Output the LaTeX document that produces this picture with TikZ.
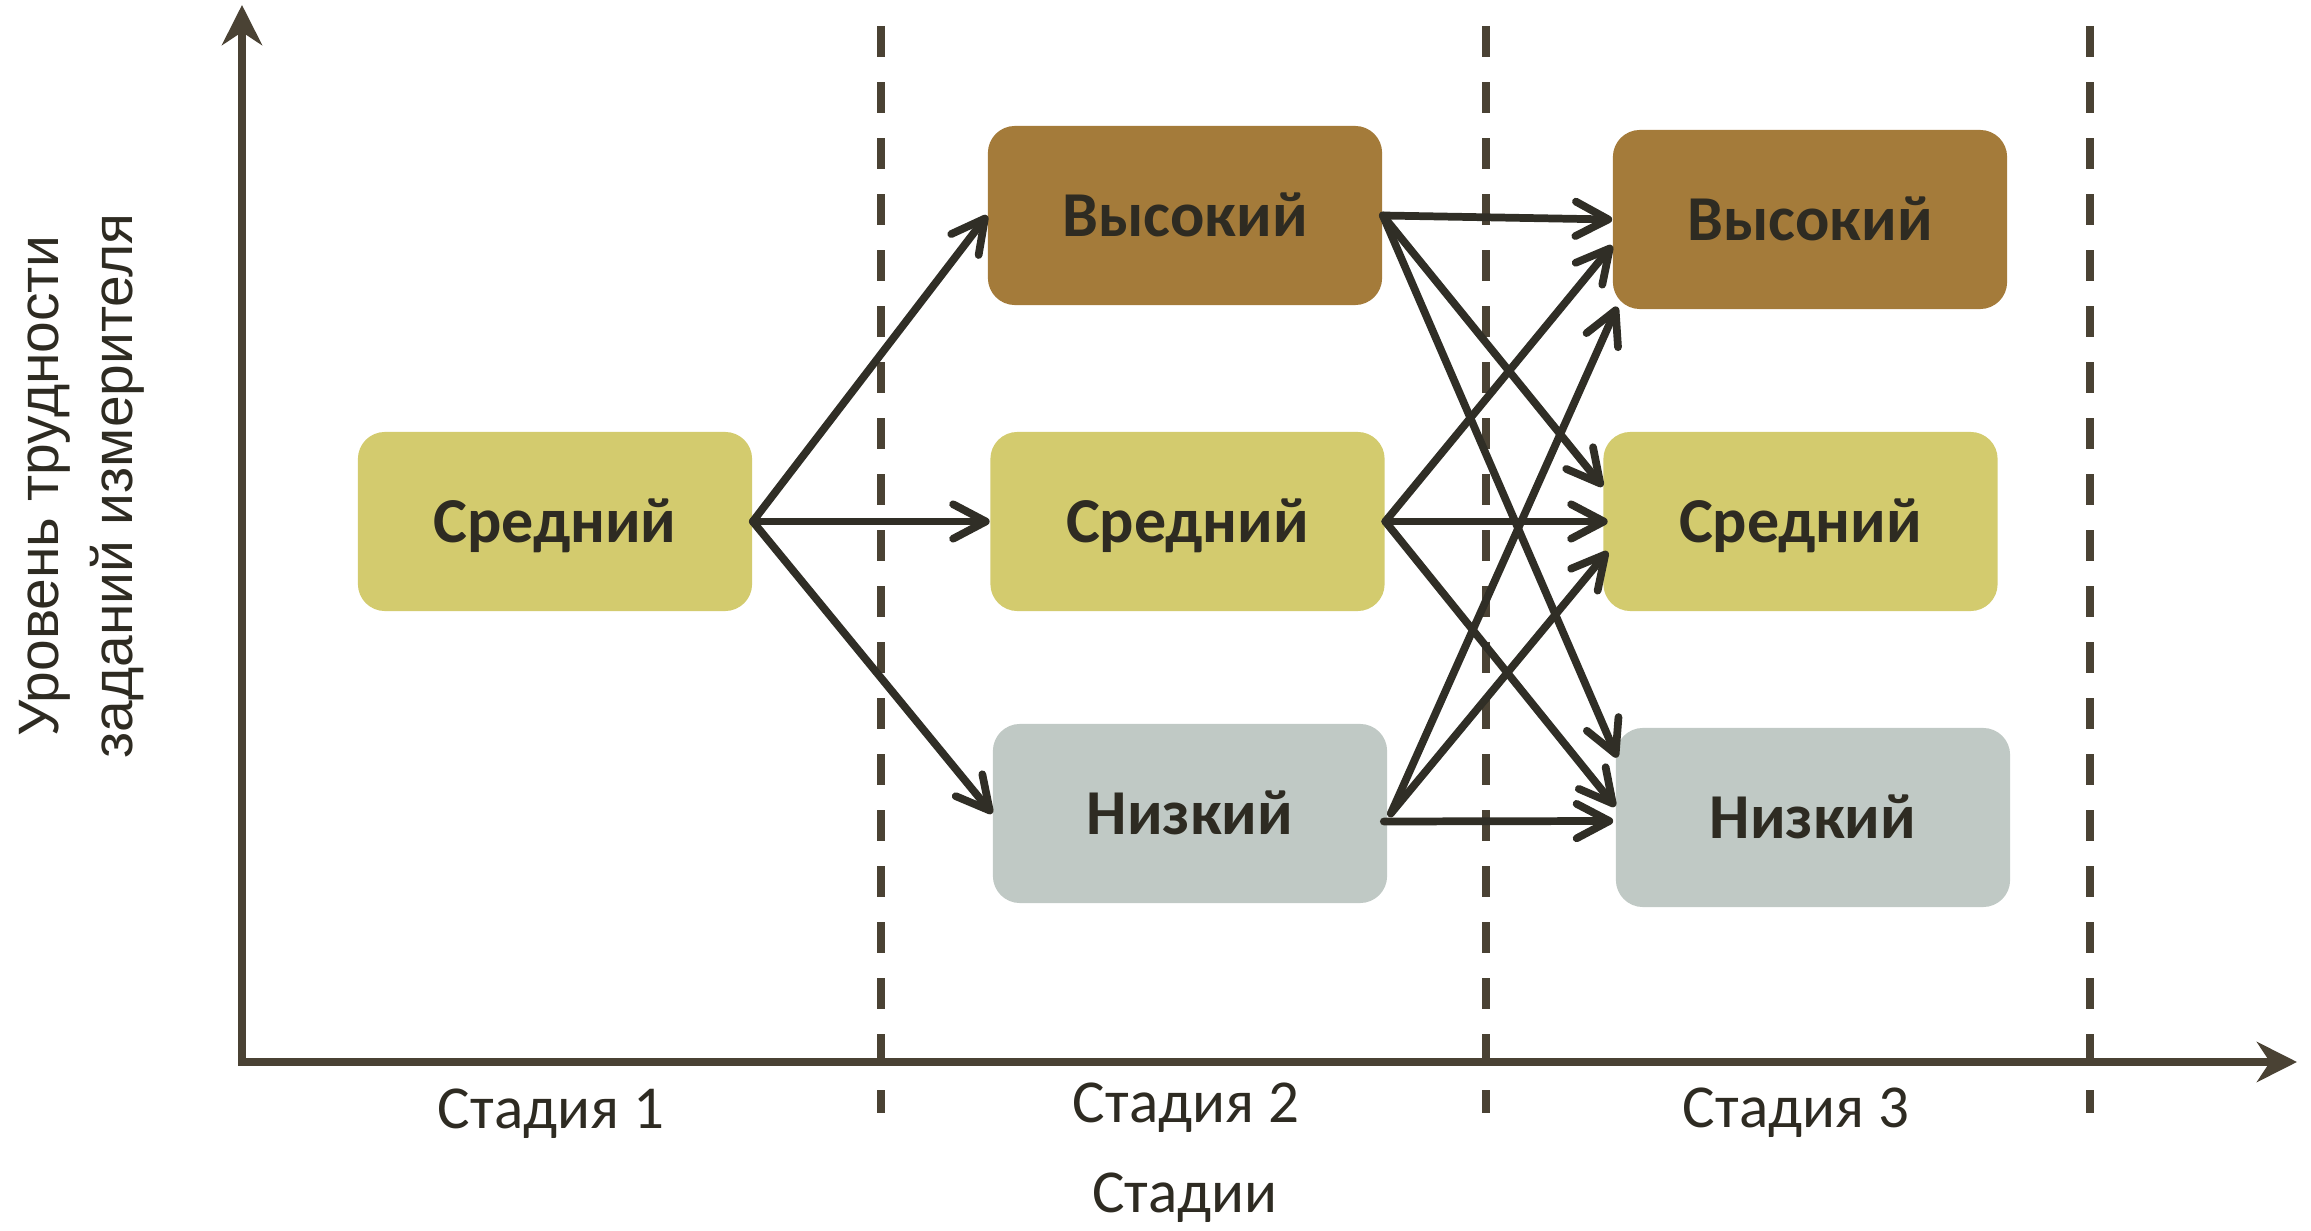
\documentclass[tikz,border=0pt]{standalone}
\usepackage{fontspec}
\setmainfont{Carlito}
\newfontfamily\arialfont{Liberation Sans}
\usetikzlibrary{arrows.meta,calc}
\definecolor{axiscol}{HTML}{4A4234}
\definecolor{arrowcol}{HTML}{302E26}
\definecolor{hcol}{HTML}{A47B3A}
\definecolor{mcol}{HTML}{D3CB6E}
\definecolor{lcol}{HTML}{C0C9C5}
\definecolor{textcol}{HTML}{2E2B22}
\tikzset{
  box/.style={rectangle, rounded corners=0.27cm, minimum width=3.94cm, minimum height=1.79cm,
    inner sep=0pt, text height=11.7pt, text depth=0pt, text=textcol,
    font=\fontsize{18.2pt}{22pt}\selectfont\bfseries},
  arr/.style={draw=arrowcol, line width=2.2pt, line cap=round,
    -{Straight Barb[length=9.3pt,width=9.8pt,round]}},
  axisline/.style={draw=axiscol, line width=2.28pt,
    -{Stealth[length=11.4pt,width=11.4pt,inset=3.7pt]}},
  dashline/.style={draw=axiscol, line width=2.28pt, dash pattern=on 8.82pt off 7.11pt},
  stagelab/.style={inner sep=0pt, text=textcol, font=\fontsize{17.35pt}{21pt}\selectfont},
  ylab/.style={inner sep=0pt, text=textcol, font=\arialfont\fontsize{16.2pt}{20pt}\selectfont}
}
\begin{document}
\begin{tikzpicture}[x=0.01cm, y=-0.01cm]
\useasboundingbox (0,0) rectangle (2311,1231);
% dashed stage separators
\coordinate (d1t) at (881,26);   \coordinate (d1b) at (881,1113);
\coordinate (d2t) at (1486,26);  \coordinate (d2b) at (1486,1113);
\coordinate (d3t) at (2090,26);  \coordinate (d3b) at (2090,1113);
\draw[dashline] (d1t) -- (d1b);
\draw[dashline] (d2t) -- (d2b);
\draw[dashline] (d3t) -- (d3b);
% axes
\coordinate (ybot) at (242,1066);
\coordinate (ytop) at (242,5);
\coordinate (xleft) at (238,1062);
\coordinate (xright) at (2297,1062);
\draw[axisline] (ybot) -- (ytop);
\draw[axisline] (xleft) -- (xright);
% boxes
\node[box, fill=mcol] (s1) at (555,521.5) {Средний};
\node[box, fill=hcol] (h2) at (1185,215.5) {Высокий};
\node[box, fill=mcol] (m2) at (1187.5,521.5) {Средний};
\node[box, fill=lcol] (l2) at (1190,813.5) {Низкий};
\node[box, fill=hcol] (h3) at (1810,219.5) {Высокий};
\node[box, fill=mcol] (m3) at (1800.5,521.5) {Средний};
\node[box, fill=lcol] (l3) at (1813,817.5) {Низкий};
% arrows stage 1 -> 2
\draw[arr] (s1.east) -- (h2.west);
\draw[arr] (s1.east) -- (m2.west);
\draw[arr] (s1.east) -- (l2.west);
% arrows stage 2 -> 3
\draw[arr] (h2.east) -- (h3.west);
\draw[arr] (h2.east) -- ($(m3.west)+(0,-35)$);
\draw[arr] (h2.east) -- ($(l3.west)+(2,-60)$);
\draw[arr] (m2.east) -- ($(h3.west)+(0,26)$);
\draw[arr] (m2.east) -- ($(m3.west)+(5,0)$);
\draw[arr] (m2.east) -- ($(l3.west)+(0,-11)$);
\draw[arr] ($(l2.east)+(3,0)$) -- ($(h3.south west)+(5,-3)$);
\draw[arr] ($(l2.east)+(3,0)$) -- ($(m3.west)+(5,30)$);
\draw[arr] ($(l2.east)+(-4,8)$) -- ($(l3.west)+(-2,3.5)$);
% labels
\node[stagelab, anchor=base] (st1) at (551,1129) {Стадия 1};
\node[stagelab, anchor=base] (st2) at (1186,1123) {Стадия 2};
\node[stagelab, anchor=base] (st3) at (1796,1127) {Стадия 3};
\node[stagelab, anchor=base] (stx) at (1185,1212) {Стадии};
\node[ylab, rotate=90, anchor=base] (yl1) at (58,486) {Уровень трудности};
\node[ylab, rotate=90, anchor=base] (yl2) at (133,486) {заданий измерителя};
\end{tikzpicture}
\end{document}
